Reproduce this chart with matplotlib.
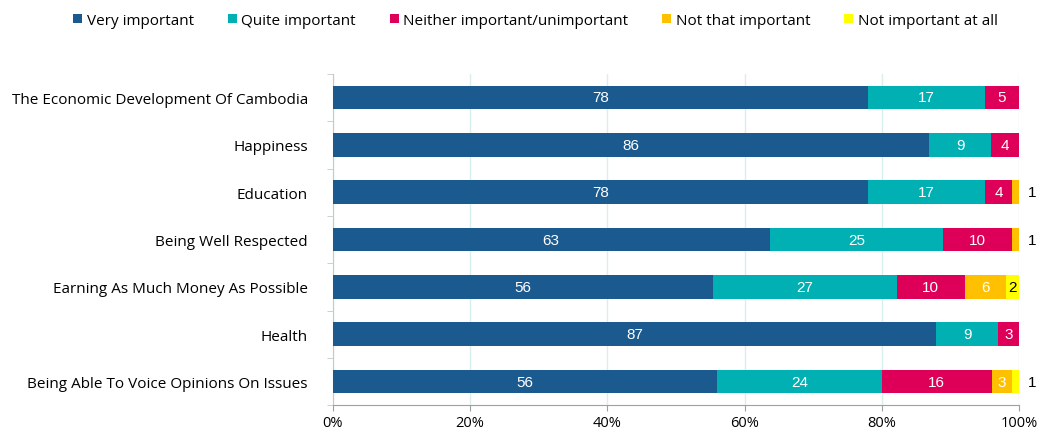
import numpy as np
import matplotlib
matplotlib.use('Agg')
import matplotlib.pyplot as plt
from matplotlib.ticker import FuncFormatter, MultipleLocator

plt.rcParams['font.family'] = ['Open Sans', 'DejaVu Sans']

categories = ["The Economic Development Of Cambodia", "Happiness", "Education",
              "Being Well Respected", "Earning As Much Money As Possible",
              "Health", "Being Able To Voice Opinions On Issues"]
series = ["Very important", "Quite important", "Neither important/unimportant",
          "Not that important", "Not important at all"]
very = [78, 86, 78, 63, 56, 87, 56]
quite = [17, 9, 17, 25, 27, 9, 24]
neither = [5, 4, 4, 10, 10, 3, 16]
not_that = [0, 0, 1, 1, 6, 0, 3]
not_all = [0, 0, 0, 0, 2, 0, 1]
colors = ['#1B5A8E', '#00B0B2', '#DE0058', '#FFC000', '#FFFF00']

data = np.array([very, quite, neither, not_that, not_all], dtype=float)
share = data / data.sum(axis=0) * 100

fig = plt.figure(figsize=(10.4, 4.35), dpi=100)
ax = fig.add_axes([0.320, 0.066, 0.660, 0.762])
y = np.arange(len(categories))
left = np.zeros(len(categories))
for i in range(len(series)):
    ax.barh(y, share[i], left=left, height=0.5, color=colors[i], label=series[i], zorder=3)
    for j in range(len(categories)):
        v = data[i, j]
        if v == 0:
            continue
        cx = left[j] + share[i, j] / 2
        if v >= 2:
            col = 'black' if i == 4 else 'white'
            ax.text(cx, y[j], f"{v:.0f}", ha='center', va='center', color=col,
                    fontsize=11, family='Liberation Sans', zorder=4)
        else:
            ax.text(101.2, y[j], f"{v:.0f}", ha='left', va='center', color='black',
                    fontsize=11, family='Liberation Sans', zorder=4)
    left += share[i]

ax.set_xlim(0, 100)
ax.set_ylim(6.5, -0.5)
ax.set_yticks(y)
ax.set_yticklabels(categories, fontsize=11)
ax.yaxis.set_minor_locator(MultipleLocator(1, offset=0.5))
ax.tick_params(axis='y', which='major', length=0, pad=18)
ax.tick_params(axis='y', which='minor', length=4, color='#C8C8C8')
ax.set_xticks([0, 20, 40, 60, 80, 100])
ax.xaxis.set_major_formatter(FuncFormatter(lambda v, p: f"{v:.0f}%"))
ax.tick_params(axis='x', length=4, color='#A0A0A0', labelsize=10.5, pad=3)
ax.grid(axis='x', color='#D8EFF0', linewidth=1, zorder=0)
for s in ['top', 'right']:
    ax.spines[s].set_visible(False)
ax.spines['left'].set_color('#C8C8C8')
ax.spines['bottom'].set_color('#A0A0A0')

fig.legend(loc='upper center', bbox_to_anchor=(0.515, 1.0), ncol=5, frameon=False,
           fontsize=11, handlelength=0.6, handleheight=0.6, handletextpad=0.3,
           columnspacing=2.2)

fig.savefig('out.png', dpi=100)
